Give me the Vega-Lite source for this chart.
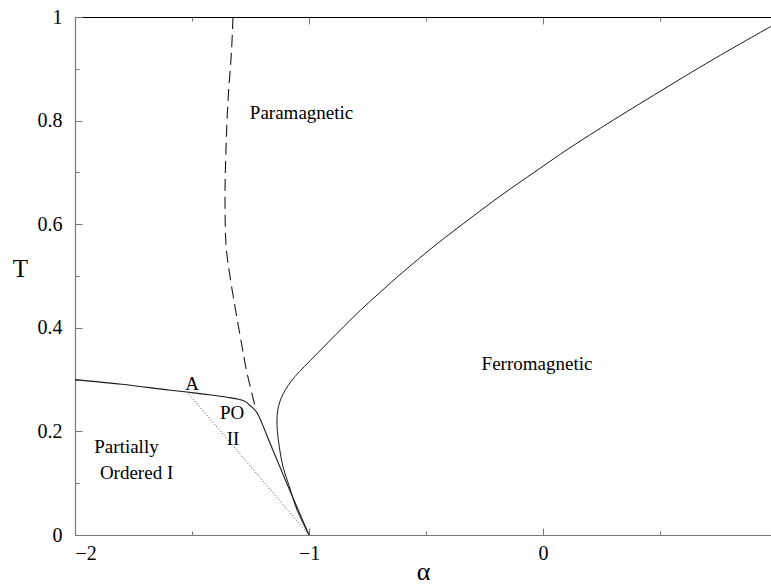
{
  "$schema": "https://vega.github.io/schema/vega-lite/v6.json",
  "width": 696,
  "height": 518,
  "autosize": {"type": "none"},
  "padding": {"left": 75, "top": 17, "right": 0, "bottom": 50},
  "background": "white",
  "config": {
    "view": {"stroke": null},
    "font": "Liberation Serif",
    "axis": {"labelFont": "Liberation Serif", "titleFont": "Liberation Serif", "grid": false, "labelColor": "black", "titleColor": "black", "titleFontWeight": "normal", "domainColor": "#777", "tickColor": "#777", "domainWidth": 1.2, "tickWidth": 1, "format": "~g"}
  },
  "datasets": {
    "curves": [
      {"s": "po", "i": 1, "a": -2.0, "t": 0.300},
      {"s": "po", "i": 2, "a": -1.8, "t": 0.291},
      {"s": "po", "i": 3, "a": -1.6, "t": 0.280},
      {"s": "po", "i": 4, "a": -1.521, "t": 0.276},
      {"s": "po", "i": 5, "a": -1.45, "t": 0.272},
      {"s": "po", "i": 6, "a": -1.35, "t": 0.266},
      {"s": "po", "i": 7, "a": -1.30, "t": 0.262},
      {"s": "po", "i": 8, "a": -1.27, "t": 0.257},
      {"s": "po", "i": 9, "a": -1.252, "t": 0.250},
      {"s": "po", "i": 10, "a": -1.235, "t": 0.243},
      {"s": "po", "i": 11, "a": -1.222, "t": 0.236},
      {"s": "po", "i": 12, "a": -1.16, "t": 0.170},
      {"s": "po", "i": 13, "a": -1.10, "t": 0.105},
      {"s": "po", "i": 14, "a": -1.05, "t": 0.052},
      {"s": "po", "i": 15, "a": -1.0, "t": 0.0},
      {"s": "pm", "i": 1, "a": -1.325, "t": 1.0},
      {"s": "pm", "i": 2, "a": -1.331, "t": 0.936},
      {"s": "pm", "i": 3, "a": -1.346, "t": 0.840},
      {"s": "pm", "i": 4, "a": -1.355, "t": 0.743},
      {"s": "pm", "i": 5, "a": -1.359, "t": 0.647},
      {"s": "pm", "i": 6, "a": -1.354, "t": 0.556},
      {"s": "pm", "i": 7, "a": -1.340, "t": 0.506},
      {"s": "pm", "i": 8, "a": -1.316, "t": 0.440},
      {"s": "pm", "i": 9, "a": -1.291, "t": 0.376},
      {"s": "pm", "i": 10, "a": -1.265, "t": 0.313},
      {"s": "pm", "i": 11, "a": -1.226, "t": 0.241},
      {"s": "fm", "i": 1, "a": -1.0, "t": 0.0},
      {"s": "fm", "i": 2, "a": -1.051, "t": 0.048},
      {"s": "fm", "i": 3, "a": -1.085, "t": 0.095},
      {"s": "fm", "i": 4, "a": -1.111, "t": 0.131},
      {"s": "fm", "i": 5, "a": -1.127, "t": 0.170},
      {"s": "fm", "i": 6, "a": -1.135, "t": 0.200},
      {"s": "fm", "i": 7, "a": -1.137, "t": 0.222},
      {"s": "fm", "i": 8, "a": -1.134, "t": 0.240},
      {"s": "fm", "i": 9, "a": -1.125, "t": 0.257},
      {"s": "fm", "i": 10, "a": -1.11, "t": 0.273},
      {"s": "fm", "i": 11, "a": -1.09, "t": 0.288},
      {"s": "fm", "i": 12, "a": -1.06, "t": 0.306},
      {"s": "fm", "i": 13, "a": -1.02, "t": 0.325},
      {"s": "fm", "i": 14, "a": -0.97, "t": 0.348},
      {"s": "fm", "i": 15, "a": -0.92, "t": 0.371},
      {"s": "fm", "i": 16, "a": -0.85, "t": 0.403},
      {"s": "fm", "i": 17, "a": -0.78, "t": 0.434},
      {"s": "fm", "i": 18, "a": -0.70, "t": 0.467},
      {"s": "fm", "i": 19, "a": -0.60, "t": 0.507},
      {"s": "fm", "i": 20, "a": -0.47, "t": 0.556},
      {"s": "fm", "i": 21, "a": -0.30, "t": 0.615},
      {"s": "fm", "i": 22, "a": -0.184, "t": 0.654},
      {"s": "fm", "i": 23, "a": 0.0, "t": 0.712},
      {"s": "fm", "i": 24, "a": 0.103, "t": 0.744},
      {"s": "fm", "i": 25, "a": 0.3, "t": 0.801},
      {"s": "fm", "i": 26, "a": 0.444, "t": 0.841},
      {"s": "fm", "i": 27, "a": 0.7, "t": 0.911},
      {"s": "fm", "i": 28, "a": 0.974, "t": 0.982},
      {"s": "dot", "i": 1, "a": -1.521, "t": 0.276},
      {"s": "dot", "i": 2, "a": -1.0, "t": 0.0}
    ],
    "labels": [
      {"a": -1.032, "t": 0.815, "text": "Paramagnetic"},
      {"a": -0.026, "t": 0.330, "text": "Ferromagnetic"},
      {"a": -1.5, "t": 0.291, "text": "A"},
      {"a": -1.329, "t": 0.236, "text": "PO"},
      {"a": -1.325, "t": 0.185, "text": "II"},
      {"a": -1.780, "t": 0.170, "text": "Partially"},
      {"a": -1.737, "t": 0.120, "text": "Ordered I"}
    ]
  },
  "layer": [
    {
      "data": {"name": "curves"},
      "transform": [{"filter": "datum.s === 'po'"}],
      "mark": {"type": "line", "color": "#1a1a1a", "strokeWidth": 1.1, "interpolate": "catmull-rom"},
      "encoding": {
        "x": {"field": "a", "type": "quantitative", "scale": {"domain": [-2, 0.974], "nice": false, "zero": false},
          "axis": {"orient": "bottom", "values": [-2, -1, 0], "tickSize": -7, "labelPadding": 15, "labelFontSize": 20, "title": "α", "titleFontSize": 26, "titleY": 36, "titleBaseline": "middle"}},
        "y": {"field": "t", "type": "quantitative", "scale": {"domain": [0, 1], "nice": false, "zero": false},
          "axis": {"orient": "left", "values": [0, 0.2, 0.4, 0.6, 0.8, 1], "tickSize": -7, "labelPadding": 20, "labelFontSize": 20, "title": "T", "titleFontSize": 25, "titleAngle": 0, "titleX": -55, "titleY": 251, "titleAlign": "center", "titleBaseline": "middle"}},
        "order": {"field": "i", "type": "quantitative"}
      }
    },
    {
      "data": {"name": "curves"},
      "transform": [{"filter": "datum.s === 'pm'"}],
      "mark": {"type": "line", "color": "#1a1a1a", "strokeWidth": 1.1, "strokeDash": [12, 6], "interpolate": "catmull-rom"},
      "encoding": {
        "x": {"field": "a", "type": "quantitative", "scale": {"domain": [-2, 0.974], "nice": false, "zero": false},
          "axis": {"orient": "bottom", "values": [-1.5, -0.5, 0.5], "tickSize": -4, "labels": false, "domain": false, "title": null}},
        "y": {"field": "t", "type": "quantitative", "scale": {"domain": [0, 1], "nice": false, "zero": false},
          "axis": {"orient": "left", "values": [0.1, 0.3, 0.5, 0.7, 0.9], "tickSize": -4, "labels": false, "domain": false, "title": null}},
        "order": {"field": "i", "type": "quantitative"}
      }
    },
    {
      "data": {"name": "curves"},
      "transform": [{"filter": "datum.s === 'fm'"}],
      "mark": {"type": "line", "color": "#1a1a1a", "strokeWidth": 1, "interpolate": "catmull-rom"},
      "encoding": {
        "x": {"field": "a", "type": "quantitative", "scale": {"domain": [-2, 0.974], "nice": false, "zero": false},
          "axis": {"orient": "top", "values": [-1, 0], "tickSize": -7, "labels": false, "domainColor": "black", "title": null}},
        "y": {"field": "t", "type": "quantitative", "scale": {"domain": [0, 1], "nice": false, "zero": false}, "axis": null},
        "order": {"field": "i", "type": "quantitative"}
      }
    },
    {
      "data": {"name": "curves"},
      "transform": [{"filter": "datum.s === 'dot'"}],
      "mark": {"type": "line", "color": "#444", "strokeWidth": 1, "strokeDash": [1, 2]},
      "encoding": {
        "x": {"field": "a", "type": "quantitative", "scale": {"domain": [-2, 0.974], "nice": false, "zero": false},
          "axis": {"orient": "top", "values": [-1.5, -0.5, 0.5], "tickSize": -4, "labels": false, "domain": false, "title": null}},
        "y": {"field": "t", "type": "quantitative", "scale": {"domain": [0, 1], "nice": false, "zero": false}, "axis": null},
        "order": {"field": "i", "type": "quantitative"}
      }
    },
    {
      "data": {"name": "labels"},
      "mark": {"type": "text", "font": "Liberation Serif", "fontSize": 19, "color": "black", "align": "center", "baseline": "middle"},
      "encoding": {
        "x": {"field": "a", "type": "quantitative", "scale": {"domain": [-2, 0.974], "nice": false, "zero": false}, "axis": null},
        "y": {"field": "t", "type": "quantitative", "scale": {"domain": [0, 1], "nice": false, "zero": false}, "axis": null},
        "text": {"field": "text", "type": "nominal"}
      }
    }
  ],
  "resolve": {"axis": {"x": "independent", "y": "independent"}}
}
